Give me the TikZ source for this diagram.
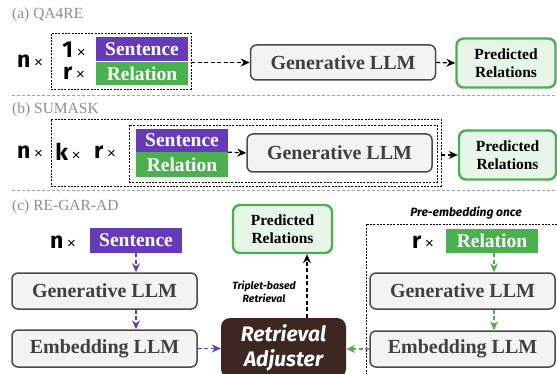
\documentclass[tikz,border=0pt]{standalone}
\usepackage{fontspec}
\setmainfont{Liberation Serif}
\newfontfamily\hand{Fira Sans}
\newfontfamily\symf{Liberation Sans}
\usetikzlibrary{arrows.meta}

\definecolor{sentpurple}{HTML}{673AB7}
\definecolor{relgreen}{HTML}{4CAF50}
\definecolor{boxfill}{HTML}{F3F3F3}
\definecolor{boxline}{HTML}{4A4A4A}
\definecolor{boxtext}{HTML}{404040}
\definecolor{predfill}{HTML}{E8F5E9}
\definecolor{adjfill}{HTML}{3E2723}
\definecolor{seclabel}{HTML}{8C8C8C}

\newcommand{\mult}[1]{{\hand\bfseries #1}\,{\symf\fontsize{15}{15}\selectfont ×}}

\tikzset{
  sectitle/.style={anchor=west, text=seclabel, font=\fontsize{15.5}{16}\selectfont, inner sep=0pt},
  sepline/.style={draw=seclabel!80, line width=0.8pt, dash pattern=on 3pt off 2pt},
  mulnode/.style={inner sep=0pt, font=\fontsize{23}{23}\selectfont},
  sentbox/.style={fill=sentpurple, text=white, font=\bfseries\fontsize{19.5}{20}\selectfont, minimum width=92pt, inner sep=0pt},
  relbox/.style={fill=relgreen, text=white, font=\bfseries\fontsize{19.5}{20}\selectfont, minimum width=92pt, inner sep=0pt},
  llmbox/.style={draw=boxline, line width=1.5pt, fill=boxfill, rounded corners=6pt, text=boxtext,
    font=\bfseries\fontsize{20}{20}\selectfont, inner sep=0pt},
  predbox/.style={draw=relgreen, line width=2.4pt, fill=predfill, rounded corners=7pt,
    font=\bfseries\fontsize{15.5}{18.5}\selectfont, align=center, inner sep=0pt},
  adjbox/.style={fill=adjfill, rounded corners=9pt, text=white, align=center,
    font=\hand\bfseries\itshape\fontsize{21}{24.5}\selectfont, inner sep=0pt},
  dbox/.style={draw=black, line width=0.7pt, dash pattern=on 2pt off 1.3pt, inner sep=0pt},
  handlabel/.style={font=\hand\bfseries\itshape\fontsize{10.5}{13}\selectfont, align=center, inner sep=0pt},
  darrow/.style={line width=1.3pt, dash pattern=on 4pt off 2.5pt, -{Stealth[length=9pt,width=8pt]}},
}

\begin{document}
\begin{tikzpicture}[x=1pt,y=-1pt]
\useasboundingbox (0,0) rectangle (557,374);

% section separators
\draw[sepline] (12,95) -- (557,95);
\draw[sepline] (12,190) -- (557,190);

% ---------------- (a) QA4RE ----------------
\node[sectitle] (ta) at (12,15) {(a) QA4RE};
\node[mulnode] (na) at (30,61) {\mult{n}};
\node[dbox, minimum width=140pt, minimum height=56pt] (boxA) at (121,61) {};
\node[mulnode] (oneA) at (74,50) {\mult{1}};
\node[mulnode] (rA) at (74,73) {\mult{r}};
\node[sentbox, minimum height=24pt] (sentA) at (142,49.5) {Sentence};
\node[relbox, minimum height=23pt] (relA) at (142,73.5) {Relation};
\node[llmbox, minimum width=185pt, minimum height=35pt] (genA) at (343,62.5) {Generative LLM};
\node[predbox, minimum width=99pt, minimum height=49pt] (predA) at (506,63) {Predicted\\Relations};
\draw[darrow] (boxA.east |- genA.west) -- (genA.west);
\draw[darrow] (genA.east) -- (predA.west);

% ---------------- (b) SUMASK ----------------
\node[sectitle] (tb) at (12,110) {(b) SUMASK};
\node[dbox, minimum width=390pt, minimum height=67pt] (outB) at (246,152.5) {};
\node[dbox, minimum width=308pt, minimum height=57pt] (inB) at (283,153.5) {};
\node[mulnode] (nb) at (30,152) {\mult{n}};
\node[mulnode] (kb) at (68,152) {\mult{k}};
\node[mulnode] (rb) at (105,152) {\mult{r}};
\node[sentbox, minimum height=23pt] (sentB) at (182,140.5) {Sentence};
\node[relbox, minimum height=25pt] (relB) at (182,164.5) {Relation};
\node[llmbox, minimum width=185pt, minimum height=38pt] (genB) at (339.5,153) {Generative LLM};
\node[predbox, minimum width=97pt, minimum height=49pt] (predB) at (507.5,155) {Predicted\\Relations};
\draw[darrow] (sentB.south east) -- (genB.west);
\draw[darrow] (outB.east |- predB.west) -- (predB.west);

% ---------------- (c) RE-GAR-AD ----------------
\node[sectitle] (tc) at (12,207) {(c) RE-GAR-AD};
\node[mulnode] (nc) at (63,242) {\mult{n}};
\node[sentbox, minimum height=25pt] (sentC) at (136,240.5) {Sentence};
\node[llmbox, minimum width=185pt, minimum height=36pt] (genC) at (104.5,291) {Generative LLM};
\node[llmbox, minimum width=185pt, minimum height=37pt] (embC) at (104.5,348.5) {Embedding LLM};

\node[adjbox, minimum width=125pt, minimum height=60pt] (adj) at (283.5,348) {Retrieval\\Adjuster};
\node[predbox, minimum width=99pt, minimum height=48pt] (predC) at (282.5,229) {Predicted\\Relations};
\coordinate (upx) at (307,0);
\draw[darrow] (adj.north -| upx) -- (predC.south -| upx);
\node[handlabel] (trip) at (264,292) {Triplet-based\\Retrieval};

\node[dbox, minimum width=194pt, minimum height=156pt] (preB) at (463,302) {};
\node[handlabel, font=\hand\bfseries\itshape\fontsize{12}{13}\selectfont] (pre) at (466,213) {Pre-embedding once};
\node[mulnode] (rc) at (423,242) {\mult{r}};
\node[relbox, minimum height=24pt] (relC) at (492,241) {Relation};
\node[llmbox, minimum width=185pt, minimum height=36pt] (genR) at (462.5,291) {Generative LLM};
\node[llmbox, minimum width=185pt, minimum height=36pt] (embR) at (462.5,349) {Embedding LLM};

\draw[darrow, draw=sentpurple] (sentC.south) -- (sentC.south |- genC.north);
\draw[darrow, draw=sentpurple] (sentC.south |- genC.south) -- (sentC.south |- embC.north);
\draw[darrow, draw=sentpurple] (embC.east) -- (embC.east -| adj.west);
\coordinate (gx) at (494,0);
\draw[darrow, draw=relgreen] (relC.south -| gx) -- (genR.north -| gx);
\draw[darrow, draw=relgreen] (genR.south -| gx) -- (embR.north -| gx);
\draw[darrow, draw=relgreen] (embR.west) -- (embR.west -| adj.east);
\end{tikzpicture}
\end{document}
